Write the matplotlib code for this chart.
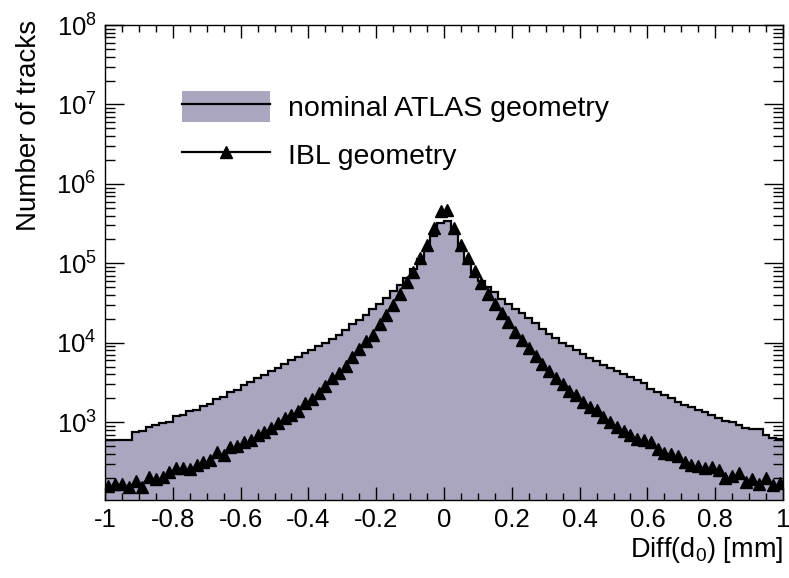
import numpy as np
import matplotlib
matplotlib.use("Agg")
import matplotlib.pyplot as plt
from matplotlib.patches import Patch
from matplotlib.lines import Line2D
from matplotlib.ticker import FixedLocator, LogLocator, NullFormatter

plt.rcParams['font.family'] = ['Liberation Sans', 'DejaVu Sans']
plt.rcParams['mathtext.fontset'] = 'custom'
plt.rcParams['mathtext.rm'] = 'Liberation Sans'
plt.rcParams['mathtext.default'] = 'regular'
plt.rcParams['axes.unicode_minus'] = False

# 100 bins of 0.02 mm between -1 and 1
bin_edges = np.linspace(-1, 1, 101)

nominal_counts = [
    600, 600, 590, 600, 760, 770, 860, 920, 990, 1020,
    1200, 1220, 1400, 1420, 1600, 1700, 1950, 2100, 2400, 2550,
    2900, 3200, 3650, 3900, 4400, 4800, 5400, 6000, 6700, 7400,
    8200, 9000, 10000, 11200, 12600, 14500, 17000, 19500, 22500, 26500,
    31000, 37000, 45000, 54000, 66000, 84000, 112000, 158000, 220000, 320000,
    340000, 250000, 160000, 100000, 76000, 60000, 50000, 43000, 36000, 31000,
    26500, 23500, 20500, 17500, 15000, 13000, 11500, 10000, 9000, 8000,
    7200, 6500, 5900, 5300, 4800, 4400, 4000, 3700, 3400, 3100,
    2600, 2400, 2200, 2000, 1800, 1650, 1550, 1420, 1330, 1220,
    1130, 1050, 1000, 920, 850, 820, 820, 700, 640, 620,
]

ibl_counts = [
    158, 166, 166, 154, 183, 151, 202, 192, 206, 233,
    264, 262, 257, 288, 312, 337, 424, 385, 481, 505,
    556, 594, 693, 764, 841, 991, 1120, 1240, 1390, 1730,
    1950, 2310, 2860, 3570, 4200, 5100, 6700, 8300, 10500, 12700,
    17000, 22700, 30000, 41000, 58000, 78000, 117000, 172000, 280000, 450000,
    470000, 280000, 172000, 117000, 79000, 57000, 41000, 30900, 23900, 18200,
    13600, 10800, 8500, 6800, 5350, 4410, 3570, 3000, 2470, 2180,
    1800, 1556, 1414, 1166, 1009, 873, 778, 700, 624, 600,
    566, 467, 408, 396, 378, 312, 288, 282, 264, 277,
    251, 196, 208, 229, 178, 192, 166, 196, 162, 171,
]

x_ticks = [-1, -0.8, -0.6, -0.4, -0.2, 0, 0.2, 0.4, 0.6, 0.8, 1]
fill_color = '#aaa6c0'

fig = plt.figure(figsize=(7.89, 5.78), dpi=100)
ax = fig.add_axes([105/789, 1 - 500/578, 678/789, 475/578])

centers = 0.5 * (bin_edges[:-1] + bin_edges[1:])
ax.stairs(nominal_counts, bin_edges, fill=True, color=fill_color, baseline=1)
ax.stairs(nominal_counts, bin_edges, baseline=None, color='black', lw=1.6)
ax.plot(centers, ibl_counts, ls='none', marker='^', ms=8, color='black')

ax.set_yscale('log')
ax.set_xlim(-1, 1)
ax.set_ylim(105, 1e8)

ax.xaxis.set_major_locator(FixedLocator(x_ticks))
ax.xaxis.set_minor_locator(FixedLocator(np.arange(-1, 1.001, 0.05)))
ax.set_xticklabels(['%g' % t for t in x_ticks])
ax.yaxis.set_minor_locator(LogLocator(base=10, subs=np.arange(2, 10), numticks=20))
ax.yaxis.set_minor_formatter(NullFormatter())
ax.set_yticks([1e3, 1e4, 1e5, 1e6, 1e7, 1e8])
ax.set_yticklabels([r'$10^{%d}$' % e for e in range(3, 9)])

ax.tick_params(which='both', direction='in', top=True, right=True, labelsize=18.5, width=1)
ax.tick_params(axis='x', which='major', length=9.5, pad=6)
ax.tick_params(axis='x', which='minor', length=5)
ax.tick_params(axis='y', which='major', length=14, pad=6)
ax.tick_params(axis='y', which='minor', length=7)
for s in ax.spines.values():
    s.set_linewidth(1)

ax.set_xlabel(r'Diff(d$_0$) [mm]', fontsize=19.5, loc='right')
ax.xaxis.set_label_coords(1.0, -0.074)
ax.set_ylabel('Number of tracks', fontsize=20, loc='top')
ax.yaxis.set_label_coords(-0.093, 1.01)

nominal_handle = (Patch(facecolor=fill_color, edgecolor='none'),
                  Line2D([], [], color='black', lw=1.6))
ibl_handle = Line2D([], [], color='black', lw=1.6, marker='^', ms=8)
leg = ax.legend([nominal_handle, ibl_handle],
                ['nominal ATLAS geometry', 'IBL geometry'],
                loc='upper left', bbox_to_anchor=(182/789, 1 - 91/578),
                bbox_transform=fig.transFigure, frameon=False, fontsize=20.5,
                handlelength=3.1, handleheight=1.3, handletextpad=0.63,
                labelspacing=0.6, borderpad=0, borderaxespad=0, numpoints=1)

fig.savefig('out.png', dpi=100)
